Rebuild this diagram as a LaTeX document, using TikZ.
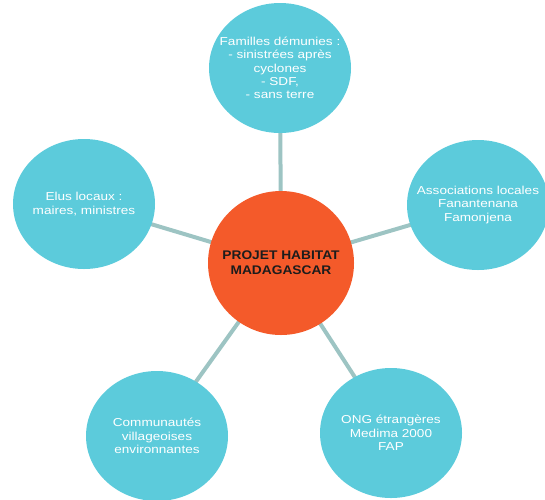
\documentclass[tikz,border=0pt]{standalone}
\usepackage{fontspec}
\setmainfont{Liberation Sans}
\newfontfamily\petalfont[FakeStretch=1.18]{Liberation Sans}
\newfontfamily\hubfont[FakeStretch=1.1]{Liberation Sans}
\usepackage{xcolor}
\usepackage{tikz}
\usetikzlibrary{shapes.geometric,backgrounds}
\definecolor{petalc}{HTML}{5CCBDB}
\definecolor{hubc}{HTML}{F45A2A}
\definecolor{linkc}{HTML}{9DC4C3}
\definecolor{hubtxt}{HTML}{1C1C1C}
\tikzset{
  link/.style={line width=4pt,linkc},
  petal/.style={ellipse,fill=petalc,draw=none,minimum width=142pt,minimum height=130pt,
    inner xsep=-16pt,inner ysep=0pt,align=center,text=white,font=\petalfont\fontsize{11.5}{13.3}\selectfont},
  hub/.style={ellipse,fill=hubc,draw=none,minimum width=146pt,minimum height=144pt,
    inner xsep=-16pt,inner ysep=0pt,align=center,text=hubtxt,font=\hubfont\fontsize{12.5}{15}\selectfont\bfseries}
}
\begin{document}
\begin{tikzpicture}[x=1pt,y=-1pt]
\useasboundingbox (0,0) rectangle (545,499);
\node[hub] (hab) at (281,263) {PROJET HABITAT\\MADAGASCAR};
\node[petal] (fam) at (280,68) {Familles démunies :\\- sinistrées après\\cyclones\\- SDF,\\- sans terre};
\node[petal] (elu) at (84,204) {Elus locaux :\\maires, ministres};
\node[petal] (asso) at (478,205) {Associations locales\\Fanantenana\\Famonjena};
\node[petal] (com) at (157,436) {Communautés\\villageoises\\environnantes};
\node[petal] (ong) at (391,433) {ONG étrangères\\Medima 2000\\FAP};
\begin{scope}[on background layer]
\foreach \p in {fam,elu,asso,com,ong}{\draw[link] (hab.center)--(\p.center);}
\end{scope}
\end{tikzpicture}
\end{document}
